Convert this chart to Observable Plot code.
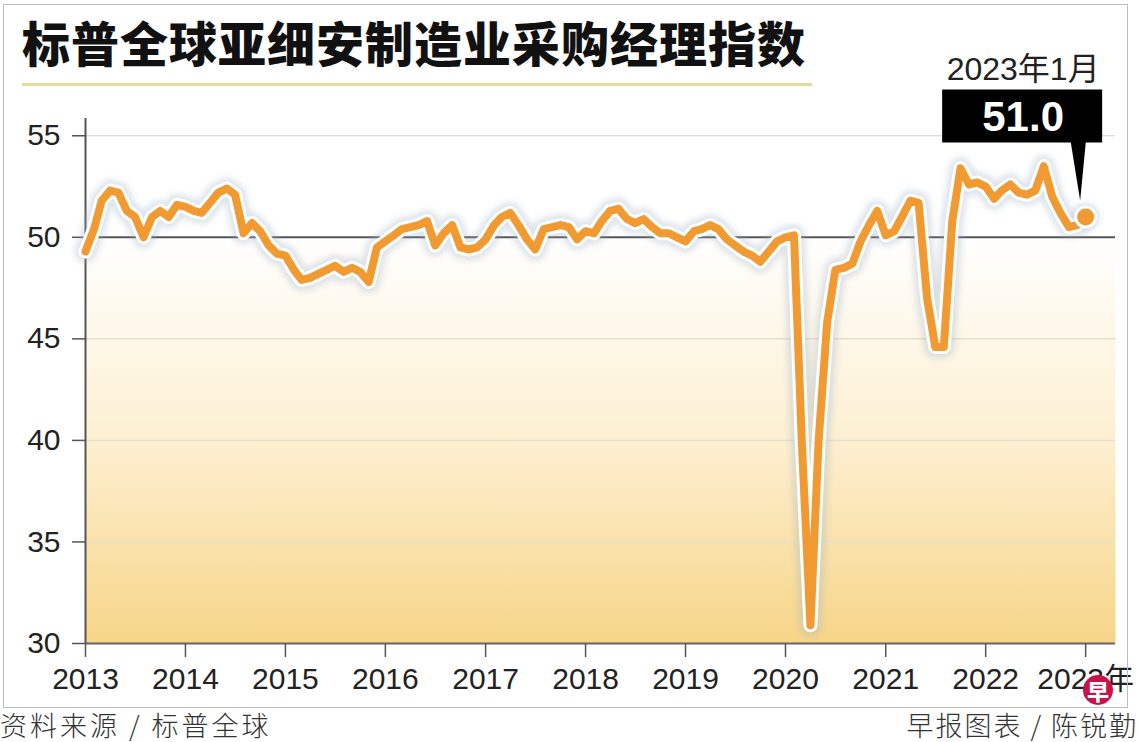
<!DOCTYPE html>
<html>
<head>
<meta charset="utf-8">
<script src="https://cdn.jsdelivr.net/npm/d3@7"></script>
<script src="https://cdn.jsdelivr.net/npm/@observablehq/plot@0.6"></script>
<style>
  body { margin: 0; width: 1140px; height: 742px; overflow: hidden; position: relative; background: #fff; }
  #chart { position: absolute; left: 0; top: 0; }
  .frame { position: absolute; left: 3px; top: 4px; width: 1125px; height: 704px; border: 1px solid #bdbdbd; box-sizing: border-box; pointer-events: none; }
  .title { position: absolute; left: 22px; top: 11px; font-family: "Noto Sans CJK SC", sans-serif; font-weight: 900; font-size: 48px; letter-spacing: 1px; color: #111; line-height: 60px; white-space: nowrap; }
  .rule { position: absolute; left: 22px; top: 83px; width: 790px; height: 3px; background: #e2dc9c; }
  .foot { position: absolute; top: 708px; font-family: "Noto Sans CJK SC", sans-serif; font-weight: 300; font-size: 27px; color: #333; line-height: 34px; letter-spacing: 3px; white-space: nowrap; }
  .logo { position: absolute; left: 1083px; top: 675px; width: 30px; height: 30px; border-radius: 50%; background: #c9124a; color: #fff; font-family: "Noto Sans CJK SC", sans-serif; font-weight: 900; font-size: 22px; line-height: 30px; text-align: center; }
</style>
</head>
<body>
<div id="chart"></div>
<div class="title">标普全球亚细安制造业采购经理指数</div>
<div class="rule"></div>
<div class="frame"></div>
<div class="foot" style="left:0">资料来源 / 标普全球</div>
<div class="foot" style="right:2px; letter-spacing:2px">早报图表 / 陈锐勤</div>
<div class="logo">早</div>
<script>
// S&P Global ASEAN manufacturing PMI, monthly
const pmi2013 = [49.3, 50.4, 51.8, 52.3, 52.2, 51.3, 51.0, 50.0, 51.0, 51.3, 51.0, 51.6];
const pmi2014 = [51.5, 51.3, 51.2, 51.7, 52.2, 52.4, 52.1, 50.2, 50.7, 50.3, 49.6, 49.2];
const pmi2015 = [49.1, 48.4, 47.9, 48.0, 48.2, 48.4, 48.6, 48.3, 48.5, 48.3, 47.8, 49.5];
const pmi2016 = [49.8, 50.1, 50.4, 50.5, 50.6, 50.8, 49.6, 50.2, 50.6, 49.5, 49.4, 49.5];
const pmi2017 = [49.9, 50.6, 51.0, 51.2, 50.6, 49.9, 49.4, 50.4, 50.5, 50.6, 50.5, 49.9];
const pmi2018 = [50.3, 50.2, 50.8, 51.3, 51.4, 50.9, 50.7, 50.9, 50.5, 50.2, 50.2, 50.0];
const pmi2019 = [49.8, 50.3, 50.4, 50.6, 50.4, 49.9, 49.6, 49.3, 49.1, 48.8, 49.3, 49.8];
const pmi2020 = [50.0, 50.1, 39.8, 30.9, 40.0, 45.8, 48.4, 48.5, 48.7, 49.8, 50.6, 51.3];
const pmi2021 = [50.1, 50.3, 51.0, 51.8, 51.7, 47.0, 44.6, 44.6, 50.8, 53.4, 52.6, 52.7];
const pmi2022 = [52.5, 51.9, 52.3, 52.6, 52.2, 52.1, 52.3, 53.5, 52.0, 51.2, 50.5, 50.6];
const pmi2023 = [51.0];

const yearTicks = [2013, 2014, 2015, 2016, 2017, 2018, 2019, 2020, 2021, 2022, 2023];
const valueTicks = [30, 35, 40, 45, 50, 55];
const latestLabel = "2023年1月";

const series = [pmi2013, pmi2014, pmi2015, pmi2016, pmi2017, pmi2018, pmi2019, pmi2020, pmi2021, pmi2022, pmi2023];
const rows = series.flatMap((vals, yi) =>
  vals.map((v, m) => ({ date: new Date(Date.UTC(yearTicks[yi], m, 1)), value: v })));
const last = rows[rows.length - 1];

const orange = "#f29a32";
const xDomain = [new Date(Date.UTC(2013, 0, 1)), new Date(Date.UTC(2023, 3, 20))];
const yDomain = [30, 55.85];

function gradientDefs() {
  const defs = d3.create("svg:defs");
  const g = defs.append("linearGradient").attr("id", "bgfill").attr("x1", 0).attr("y1", 0).attr("x2", 0).attr("y2", 1);
  g.append("stop").attr("offset", "0%").attr("stop-color", "#ffffff");
  g.append("stop").attr("offset", "22%").attr("stop-color", "#ffffff");
  g.append("stop").attr("offset", "60%").attr("stop-color", "#fdf0d3");
  g.append("stop").attr("offset", "100%").attr("stop-color", "#f7d588");
  return defs.node();
}

function callout(index, scales) {
  const px = scales.x(last.date), py = scales.y(last.value);
  const g = d3.create("svg:g");
  g.append("path")
    .attr("d", `M${px - 15},${py - 78}L${px + 1},${py - 78}L${px - 5},${py - 16}Z`)
    .attr("fill", "#000");
  g.append("rect")
    .attr("x", px - 143).attr("y", py - 127).attr("width", 160).attr("height", 53)
    .attr("fill", "#000");
  g.append("text")
    .attr("x", px - 62).attr("y", py - 86)
    .attr("text-anchor", "middle").attr("fill", "#fff")
    .attr("font-family", "Liberation Sans, Arial, sans-serif")
    .attr("font-size", 42).attr("font-weight", "bold")
    .text(d3.format(".1f")(last.value));
  g.append("text")
    .attr("x", px - 62).attr("y", py - 137)
    .attr("text-anchor", "middle").attr("fill", "#222")
    .attr("font-family", "Liberation Sans, Noto Sans CJK SC, sans-serif")
    .attr("font-size", 32)
    .text(latestLabel);
  return g.node();
}

const chart = Plot.plot({
  width: 1140,
  height: 710,
  marginLeft: 85,
  marginRight: 25,
  marginTop: 118,
  marginBottom: 67,
  style: { fontFamily: "Liberation Sans, Noto Sans CJK SC, sans-serif", color: "#222", background: "transparent", overflow: "visible" },
  x: { type: "utc", domain: xDomain },
  y: { domain: yDomain },
  marks: [
    gradientDefs,
    Plot.frame({ fill: "url(#bgfill)", stroke: null }),
    Plot.ruleY([35, 40, 45], { stroke: "#e6dfcd", strokeWidth: 1.5 }),
    Plot.ruleY([55], { stroke: "#cfcfcf", strokeWidth: 1.2 }),
    Plot.ruleY([50], { stroke: "#555", strokeWidth: 2 }),
    Plot.ruleY([30], { stroke: "#666", strokeWidth: 2 }),
    Plot.ruleX([xDomain[0]], { stroke: "#555", strokeWidth: 2 }),
    Plot.axisY(valueTicks, { label: null, tickSize: 13, tickPadding: 12, fontSize: 30, stroke: "#555", strokeWidth: 1.5 }),
    Plot.axisX(yearTicks.map(y => new Date(Date.UTC(y, 0, 1))), {
      label: null, tickSize: 14, tickPadding: 10, fontSize: 30, stroke: "#555", strokeWidth: 1.5,
      tickFormat: d => d.getUTCFullYear() === 2023 ? "2023年" : String(d.getUTCFullYear())
    }),
    Plot.line(rows, { x: "date", y: "value", stroke: "#9fb1c6", strokeOpacity: 0.35, strokeWidth: 22, strokeLinejoin: "round", strokeLinecap: "round", imageFilter: "blur(3px)" }),
    Plot.line(rows, { x: "date", y: "value", stroke: "#fff", strokeWidth: 14, strokeLinejoin: "round", strokeLinecap: "round" }),
    Plot.line(rows, { x: "date", y: "value", stroke: orange, strokeWidth: 8, strokeLinejoin: "round", strokeLinecap: "round" }),
    Plot.dot([last], { x: "date", y: "value", r: 13, fill: "#9fb1c6", fillOpacity: 0.35, imageFilter: "blur(3px)" }),
    Plot.dot([last], { x: "date", y: "value", r: 10, fill: orange, stroke: "#fff", strokeWidth: 3 }),
    callout
  ]
});

document.getElementById("chart").append(chart);
</script>
</body>
</html>
